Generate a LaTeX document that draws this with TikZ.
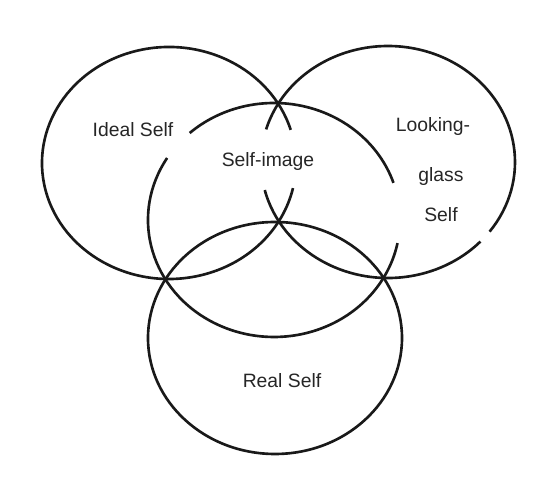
\documentclass[tikz,border=0pt]{standalone}
\usepackage{fontspec}
\setmainfont{Liberation Sans}
\usetikzlibrary{positioning}

\tikzset{
  ring/.style={line width=1.5pt, black!90},
  ringlabel/.style={anchor=base, inner sep=0pt, text=black!85, font=\fontsize{11}{13}\selectfont}
}

\begin{document}
\begin{tikzpicture}[x=0.02cm, y=0.02cm]
    \useasboundingbox (0,0) rectangle (542,479);

    % centres of the four rings
    \coordinate (ideal) at (169,316);
    \coordinate (glass) at (388,317);
    \coordinate (image) at (274,259);
    \coordinate (real)  at (275,141);

    % Ideal Self ring, open behind the self-image label
    \draw[ring] (ideal) ++(16.6:127 and 116) arc[start angle=16.6, end angle=347.5, x radius=127, y radius=116];

    % Looking-glass ring
    \draw[ring] (glass) ++(194:127 and 116) arc[start angle=194, end angle=316.7, x radius=127, y radius=116];
    \draw[ring] (glass) ++(323.1:127 and 116) arc[start angle=323.1, end angle=523.7, x radius=127, y radius=116];

    % Self-image ring
    \draw[ring] (image) ++(18.5:126 and 117) arc[start angle=18.5, end angle=132, x radius=126, y radius=117];
    \draw[ring] (image) ++(148:126 and 117) arc[start angle=148, end angle=348.6, x radius=126, y radius=117];

    % Real Self ring
    \draw[ring] (real) ellipse[x radius=127, y radius=116];

    % Labels
    \node[ringlabel] (idealtxt) at (133,342) {Ideal Self};
    \node[ringlabel] (imagetxt) at (268,312) {Self-image};
    \node[ringlabel] (looktxt) at (433,347) {Looking-};
    \node[ringlabel] (glasstxt) at (441,297) {glass};
    \node[ringlabel] (selftxt) at (441,257) {Self};
    \node[ringlabel] (realtxt) at (282,91) {Real Self};
\end{tikzpicture}
\end{document}
